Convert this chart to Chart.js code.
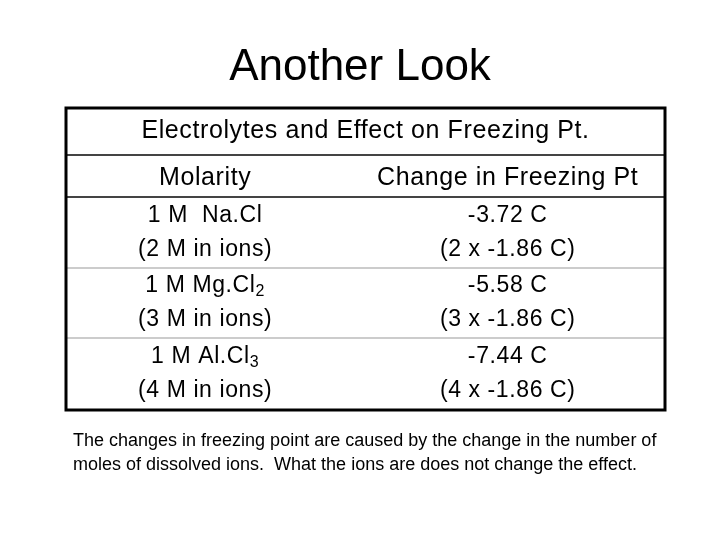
<!DOCTYPE html>
<html><head><meta charset="utf-8">
<script src="https://cdn.jsdelivr.net/npm/chart.js@4"></script>
<style>body{margin:0;background:#fff}#c{display:block}</style>
</head><body>
<canvas id="c" width="720" height="540"></canvas>
<script>
const title = 'Another Look';
const tableTitle = 'Electrolytes and Effect on Freezing Pt.';
const columns = ['Molarity', 'Change in Freezing Pt'];
// each cell: [main text, subscript] for line 1, then line 2
const molarity = [
  [['1 M  Na.Cl', ''], '(2 M in ions)'],
  [['1 M Mg.Cl', '2'], '(3 M in ions)'],
  [['1 M Al.Cl', '3'], '(4 M in ions)']
];
const change = ['-3.72 C', '-5.58 C', '-7.44 C'];
const changeNote = ['(2 x -1.86 C)', '(3 x -1.86 C)', '(4 x -1.86 C)'];
const footer = ['The changes in freezing point are caused by the change in the number of',
  'moles of dissolved ions.  What the ions are does not change the effect.'];

// row boundaries on the y scale (table units)
const rowEdges = [0, 47, 89, 160, 230, 302];

const tablePlugin = {
  id: 'table',
  afterDraw(chart) {
    const ctx = chart.ctx, a = chart.chartArea;
    const xs = chart.scales.x, ys = chart.scales.y;
    const F = 'Liberation Sans, Arial, sans-serif';
    ctx.save();
    ctx.fillStyle = '#000';
    ctx.textAlign = 'center'; ctx.textBaseline = 'middle';
    ctx.font = '44px ' + F;
    ctx.fillText(title, 360, 68);
    const yp = v => ys.getPixelForValue(v);
    ctx.strokeStyle = '#444'; ctx.lineWidth = 2;
    [1, 2].forEach(i => { ctx.beginPath(); ctx.moveTo(a.left, yp(rowEdges[i])); ctx.lineTo(a.right, yp(rowEdges[i])); ctx.stroke(); });
    ctx.strokeStyle = '#bbb'; ctx.lineWidth = 1.5;
    [3, 4].forEach(i => { ctx.beginPath(); ctx.moveTo(a.left, yp(rowEdges[i])); ctx.lineTo(a.right, yp(rowEdges[i])); ctx.stroke(); });
    ctx.strokeStyle = '#000'; ctx.lineWidth = 3;
    ctx.strokeRect(a.left, a.top, a.right - a.left, a.bottom - a.top);
    const mid = i => (yp(rowEdges[i]) + yp(rowEdges[i + 1])) / 2;
    ctx.letterSpacing = '0.6px';
    ctx.font = '25px ' + F;
    ctx.fillText(tableTitle, (a.left + a.right) / 2, mid(0));
    const cx = [xs.getPixelForValue(0), xs.getPixelForValue(1)];
    ctx.fillText(columns[0], cx[0], mid(1) + 2);
    ctx.fillText(columns[1], cx[1], mid(1) + 2);
    for (let r = 0; r < 3; r++) {
      const y0 = mid(r + 2), y1 = y0 - 17, y2 = y0 + 17;
      const [m, sub] = molarity[r][0];
      ctx.font = '23px ' + F;
      const w1 = ctx.measureText(m).width;
      ctx.font = '16px ' + F;
      const w2 = sub ? ctx.measureText(sub).width : 0;
      const sx = cx[0] - (w1 + w2) / 2;
      ctx.textAlign = 'left';
      ctx.font = '23px ' + F; ctx.fillText(m, sx, y1);
      if (sub) { ctx.font = '16px ' + F; ctx.fillText(sub, sx + w1, y1 + 6); }
      ctx.textAlign = 'center'; ctx.font = '23px ' + F;
      ctx.fillText(molarity[r][1], cx[0], y2);
      ctx.fillText(change[r], cx[1], y1);
      ctx.fillText(changeNote[r], cx[1], y2);
    }
    ctx.letterSpacing = '0px';
    ctx.textAlign = 'left'; ctx.font = '18px ' + F;
    footer.forEach((t, i) => ctx.fillText(t, 73, 441 + i * 24));
    ctx.restore();
  }
};

new Chart(document.getElementById('c'), {
  type: 'scatter',
  data: { datasets: [{ data: [], pointRadius: 0 }] },
  options: {
    responsive: false, animation: false,
    layout: { padding: { left: 66, right: 55, top: 108, bottom: 130 } },
    plugins: { legend: { display: false }, tooltip: { enabled: false } },
    scales: {
      x: { type: 'linear', min: -0.46, max: 1.52, display: false },
      y: { type: 'linear', min: 0, max: 302, reverse: true, display: false }
    }
  },
  plugins: [tablePlugin]
});
</script>
</body></html>
